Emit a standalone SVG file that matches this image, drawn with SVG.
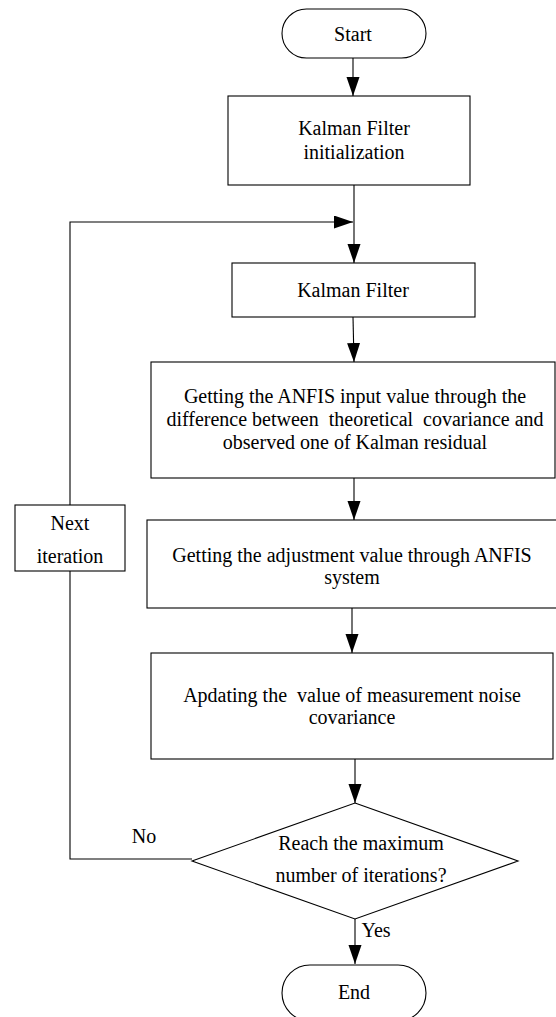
<svg xmlns="http://www.w3.org/2000/svg" width="556" height="1017" viewBox="0 0 556 1017">
<style>
.n{fill:#fff;stroke:#000;stroke-width:1.1}
.t{font-family:"Liberation Serif","Times New Roman",serif;font-size:20px;fill:#000;text-anchor:middle}
.c{fill:none;stroke:#000;stroke-width:1.1}
</style>
<defs>
<marker id="ah" markerUnits="userSpaceOnUse" markerWidth="20" markerHeight="14" refX="19" refY="6.5" orient="auto">
<path d="M0,0 L19,6.5 L0,13 Z" fill="#000"/>
</marker>
</defs>
<rect width="556" height="1017" fill="#fff"/>
<g id="connectors">
<line class="c" x1="353" y1="58" x2="353" y2="96" marker-end="url(#ah)"/>
<line class="c" x1="354" y1="185" x2="354" y2="263" marker-end="url(#ah)"/>
<polyline class="c" points="192,859 70,859 70,222 353,222" marker-end="url(#ah)"/>
<line class="c" x1="353" y1="317" x2="354" y2="362" marker-end="url(#ah)"/>
<line class="c" x1="354" y1="478" x2="354" y2="520" marker-end="url(#ah)"/>
<line class="c" x1="352" y1="608" x2="352" y2="653" marker-end="url(#ah)"/>
<line class="c" x1="355" y1="759" x2="355" y2="803" marker-end="url(#ah)"/>
<line class="c" x1="355" y1="919" x2="355" y2="964" marker-end="url(#ah)"/>
<text class="t" x="144" y="843">No</text>
<text class="t" x="376" y="937">Yes</text>
</g>
<g id="start">
<rect class="n" x="282" y="9" width="144" height="49" rx="24.5" ry="24.5"/>
<text class="t" x="353" y="41">Start</text>
</g>
<g id="init">
<rect class="n" x="228" y="96" width="242" height="89"/>
<text class="t" x="354" y="135">Kalman Filter</text>
<text class="t" x="354" y="159">initialization</text>
</g>
<g id="kalman">
<rect class="n" x="232" y="263" width="243" height="54"/>
<text class="t" x="353" y="297">Kalman Filter</text>
</g>
<g id="anfis-input">
<rect class="n" x="151" y="362" width="404" height="116"/>
<text class="t" x="355" y="403">Getting the ANFIS input value through the</text>
<text class="t" x="355" y="426" xml:space="preserve">difference between  theoretical  covariance and</text>
<text class="t" x="355" y="449">observed one of Kalman residual</text>
</g>
<g id="next">
<rect class="n" x="15" y="505" width="110" height="66"/>
<text class="t" x="70" y="530">Next</text>
<text class="t" x="70" y="563">iteration</text>
</g>
<g id="adjust">
<rect class="n" x="147" y="520" width="410" height="88"/>
<text class="t" x="352" y="562">Getting the adjustment value through ANFIS</text>
<text class="t" x="352" y="584">system</text>
</g>
<g id="update">
<rect class="n" x="151" y="653" width="402" height="106"/>
<text class="t" x="352" y="702" xml:space="preserve">Apdating the  value of measurement noise</text>
<text class="t" x="352" y="724">covariance</text>
</g>
<g id="decision">
<polygon class="n" points="355,803 518,861 355,919 192,861"/>
<text class="t" x="361" y="850">Reach the maximum</text>
<text class="t" x="361" y="882">number of iterations?</text>
</g>
<g id="end">
<rect class="n" x="282" y="965" width="144" height="56" rx="28" ry="28"/>
<text class="t" x="354" y="999">End</text>
</g>
</svg>
